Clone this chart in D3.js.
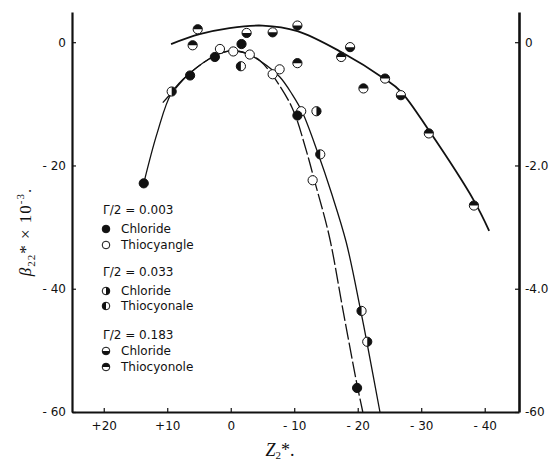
<!DOCTYPE html>
<html>
<head>
<meta charset="utf-8">
<script src="https://cdn.jsdelivr.net/npm/d3@7"></script>
<style>
  body { margin: 0; background: #fff; }
  svg { display: block; }
  .tick text { font-family: "DejaVu Sans", sans-serif; font-size: 12px; fill: #111; }
  .tick line { stroke: #111; stroke-width: 1.2; }
  .domain { stroke: #111; stroke-width: 2.2; }
  .legend text { font-family: "DejaVu Sans", sans-serif; font-size: 12px; fill: #111; }
</style>
</head>
<body>
<div id="chart"></div>
<script>
// axis ticks
const xTicks = [20, 10, 0, -10, -20, -30, -40];
const xTickLabels = ["+20", "+10", "0", "- 10", "- 20", "- 30", "- 40"];
const yTicks = [0, -20, -40, -60];
const yLeftLabels = ["0", "- 20", "- 40", "- 60"];
const yRightLabels = ["0", "-2.0", "-4.0", "-60"];

// fitted curves [Z2*, beta22*]
const curveTop = [[9.4, -0.3], [4.9, 1.3], [0.2, 2.3], [-5, 2.7], [-10.5, 1.8], [-17.4, -1.6],
  [-24.3, -6.0], [-26.8, -8.0], [-31.2, -14.3], [-38.3, -25.7], [-40.7, -30.6]];
const curveOuter = [[13.7, -22.9], [11.6, -14.8], [9.3, -8.2], [6.4, -5.0], [2.5, -2.2], [0, -1.4],
  [-2.5, -1.8], [-4.6, -3.0], [-7.7, -5.6], [-9.7, -8.5], [-11.3, -11.4], [-13.7, -17.9],
  [-15.9, -24.6], [-18.2, -32.5], [-20.4, -43.2], [-21.5, -49], [-23.5, -60]];
const curveInner = [[10.7, -9.8], [9.3, -8.2], [6.4, -5.0], [2.5, -2.2], [0, -1.4], [-2.5, -1.8],
  [-4.6, -3.0], [-6.6, -5.4], [-9.7, -10.7], [-11.9, -17.6], [-13.2, -22.5], [-15.5, -31.4],
  [-17.7, -43.6], [-19.9, -55.6], [-20.8, -60]];

// measured points
const chloride003 = [[13.7, -22.9], [6.4, -5.4], [2.5, -2.4], [-1.7, -0.3], [-10.5, -11.9], [-19.9, -56.1]];
const thiocyanate003 = [[1.7, -1.1], [-0.4, -1.5], [-3.0, -2.0], [-6.6, -5.2], [-7.7, -4.4], [-11.1, -11.2], [-12.9, -22.4]];
const chloride033 = [[9.3, -8.0], [-13.5, -11.2], [-21.5, -48.6]];
const thiocyanate033 = [[-1.6, -3.9], [-14.1, -18.2], [-20.6, -43.6]];
const chloride183 = [[-2.5, 1.5], [-6.6, 1.6], [-10.5, 2.7], [-18.8, -0.8], [-26.8, -8.6]];
const thiocyanate183 = [[5.2, 2.1], [6.0, -0.5], [-10.5, -3.4], [-17.4, -2.4], [-20.9, -7.5],
  [-24.3, -5.9], [-31.2, -14.8], [-38.3, -26.5]];

const width = 556, height = 464;
const plotLeft = 72, plotRight = 519, plotTop = 12, plotBottom = 412;

const svg = d3.select("#chart").append("svg")
  .attr("width", width)
  .attr("height", height);

const x = d3.scaleLinear().domain([25, -45.4]).range([plotLeft, plotRight]);
const y = d3.scaleLinear().domain([-60, 4.9]).range([plotBottom, plotTop]);

// axes
svg.append("g")
  .attr("transform", `translate(0,${plotBottom})`)
  .call(d3.axisBottom(x).tickValues(xTicks).tickSize(-4).tickSizeOuter(0).tickPadding(9)
    .tickFormat((d, i) => xTickLabels[i]));

svg.append("g")
  .attr("transform", `translate(${plotLeft},0)`)
  .call(d3.axisLeft(y).tickValues(yTicks).tickSize(-4).tickSizeOuter(0).tickPadding(6)
    .tickFormat((d, i) => yLeftLabels[i]));

svg.append("g")
  .attr("transform", `translate(${plotRight},0)`)
  .call(d3.axisRight(y).tickValues(yTicks).tickSize(-4).tickSizeOuter(0).tickPadding(6)
    .tickFormat((d, i) => yRightLabels[i]))
  .select(".domain").style("stroke-width", 2.6);

// curves
const line = d3.line()
  .x((d) => x(d[0]))
  .y((d) => y(d[1]))
  .curve(d3.curveCatmullRom.alpha(0.5));

svg.append("path").attr("d", line(curveTop))
  .attr("fill", "none").attr("stroke", "#111").attr("stroke-width", 1.8);
svg.append("path").attr("d", line(curveOuter))
  .attr("fill", "none").attr("stroke", "#111").attr("stroke-width", 1.3);
svg.append("path").attr("d", line(curveInner))
  .attr("fill", "none").attr("stroke", "#111").attr("stroke-width", 1.3)
  .attr("stroke-dasharray", "16,3");

// markers
const r = 4.6;
function halfPath(kind, rr) {
  if (kind === "bottom") return `M${-rr},0A${rr},${rr} 0 0 0 ${rr},0Z`;
  if (kind === "top") return `M${-rr},0A${rr},${rr} 0 0 1 ${rr},0Z`;
  if (kind === "right") return `M0,${-rr}A${rr},${rr} 0 0 1 0,${rr}Z`;
  return `M0,${-rr}A${rr},${rr} 0 0 0 0,${rr}Z`;
}

function drawMarker(g, kind, rr) {
  g.append("circle").attr("r", rr)
    .attr("fill", kind === "fill" ? "#111" : "#fff")
    .attr("stroke", "#111").attr("stroke-width", 1);
  if (kind !== "fill" && kind !== "open") {
    g.append("path").attr("d", halfPath(kind, rr)).attr("fill", "#111");
  }
}

function drawSeries(data, kind) {
  svg.append("g").selectAll("g")
    .data(data)
    .enter()
    .append("g")
    .attr("transform", (d) => `translate(${x(d[0])},${y(d[1])})`)
    .each(function () { drawMarker(d3.select(this), kind, r); });
}

drawSeries(thiocyanate003, "open");
drawSeries(chloride003, "fill");
drawSeries(chloride033, "right");
drawSeries(thiocyanate033, "left");
drawSeries(chloride183, "bottom");
drawSeries(thiocyanate183, "top");

// legend
const legendRows = [
  { text: "\u0393/2 = 0.003", y: 214 },
  { text: "Chloride", y: 233, kind: "fill" },
  { text: "Thiocyangle", y: 249, kind: "open" },
  { text: "\u0393/2 = 0.033", y: 276 },
  { text: "Chloride", y: 295, kind: "right" },
  { text: "Thiocyonale", y: 310, kind: "left" },
  { text: "\u0393/2 = 0.183", y: 339 },
  { text: "Chloride", y: 355, kind: "bottom" },
  { text: "Thiocyonole", y: 371, kind: "top" }
];

const legend = svg.append("g").attr("class", "legend");
legendRows.forEach((row) => {
  if (row.kind) {
    const g = legend.append("g").attr("transform", `translate(106,${row.y - 4})`);
    drawMarker(g, row.kind, 3.8);
    legend.append("text").attr("x", 121).attr("y", row.y).text(row.text);
  } else {
    legend.append("text").attr("x", 103).attr("y", row.y).text(row.text);
  }
});

// axis titles
const yTitle = svg.append("text")
  .attr("transform", "translate(31,232) rotate(-90)")
  .attr("text-anchor", "middle")
  .attr("font-family", "'Liberation Serif', serif")
  .attr("font-size", 17)
  .attr("letter-spacing", 1)
  .attr("fill", "#111");
yTitle.append("tspan").attr("font-style", "italic").text("\u03b2");
yTitle.append("tspan").attr("font-size", 11).attr("dy", 4).text("22");
yTitle.append("tspan").attr("dy", -4).text("* \u00d7 10");
yTitle.append("tspan").attr("font-size", 11).attr("dy", -7).text("-3");
yTitle.append("tspan").attr("dy", 7).text(".");

const xTitle = svg.append("text")
  .attr("x", 280)
  .attr("y", 456)
  .attr("text-anchor", "middle")
  .attr("font-family", "'Liberation Serif', serif")
  .attr("font-size", 18)
  .attr("fill", "#111");
xTitle.append("tspan").attr("font-style", "italic").text("Z");
xTitle.append("tspan").attr("font-size", 11).attr("dy", 3).text("2");
xTitle.append("tspan").attr("dy", -3).text("*.");
</script>
</body>
</html>
